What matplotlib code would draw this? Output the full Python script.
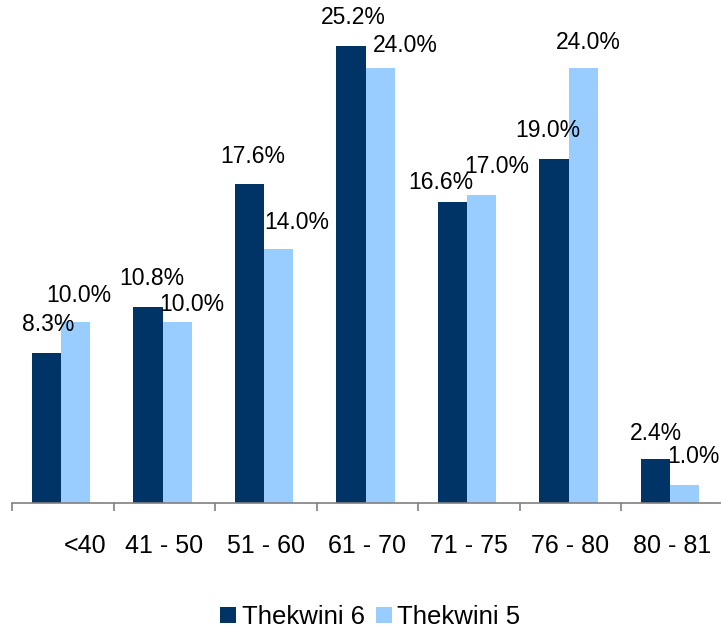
import numpy as np
import matplotlib
matplotlib.use('Agg')
import matplotlib.pyplot as plt
import matplotlib.transforms as mtransforms

plt.rcParams['font.family'] = ['Liberation Sans', 'DejaVu Sans']

categories = ['<40', '41 - 50', '51 - 60', '61 - 70', '71 - 75', '76 - 80', '80 - 81']
thekwini6 = [8.3, 10.8, 17.6, 25.2, 16.6, 19.0, 2.4]
thekwini5 = [10.0, 10.0, 14.0, 24.0, 17.0, 24.0, 1.0]

# label nudges in pixels (dx right, dy up from bar top), Excel-style placement
nudge6 = [(2, 28), (4, 29), (3, 27), (2, 29), (-12, 20), (-6, 28), (0, 26)]
nudge5 = [(3, 26), (15, 17), (18, 27), (25, 22), (15, 28), (5, 25), (9, 28)]

dark = '#003366'
light = '#99CCFF'
px = 72 / 100  # points per pixel at dpi 100

fig = plt.figure(figsize=(7.21, 6.31), dpi=100)
ax = fig.add_axes([12 / 721, 128 / 631, 710.5 / 721, 503 / 631])

x = np.arange(len(categories))
w = 0.286
b6 = ax.bar(x - 0.16, thekwini6, w, color=dark, label='Thekwini 6')
b5 = ax.bar(x + 0.126, thekwini5, w, color=light, label='Thekwini 5')

for xs, vals, nud in [(x - 0.16, thekwini6, nudge6), (x + 0.126, thekwini5, nudge5)]:
    for xi, v, (dx, dy) in zip(xs, vals, nud):
        ax.annotate('%.1f%%' % v, (xi, v), xytext=(dx * px, dy * px),
                    textcoords='offset points', ha='center', va='center',
                    fontsize=16.5, color='black')

ax.set_xlim(-0.5, len(categories) - 0.5)
ax.set_ylim(0, 503 / 18.13)

for s in ['top', 'right', 'left']:
    ax.spines[s].set_visible(False)
ax.spines['bottom'].set_color('#808080')
ax.spines['bottom'].set_linewidth(1.2)
ax.set_yticks([])

ax.set_xticks(x)
ax.set_xticklabels(categories, fontsize=18)
ax.set_xticks(np.arange(-0.5, len(categories)), minor=True)
ax.tick_params(axis='x', which='major', length=0, pad=22)
ax.tick_params(axis='x', which='minor', length=8 * px, color='#808080', width=1.2)

# first label sits a bit to the right in the reference
lbl = ax.get_xticklabels()[0]
lbl.set_transform(lbl.get_transform() + mtransforms.ScaledTranslation(22 / 100, 0, fig.dpi_scale_trans))

fig.legend(handles=[b6, b5], loc='center', bbox_to_anchor=(370.5 / 721, 1 - 617 / 631),
           ncol=2, frameon=False, fontsize=18.5, handlelength=0.62, handleheight=0.62,
           handletextpad=0.22, columnspacing=0.42, borderpad=0)

fig.savefig('out.png', dpi=100)
